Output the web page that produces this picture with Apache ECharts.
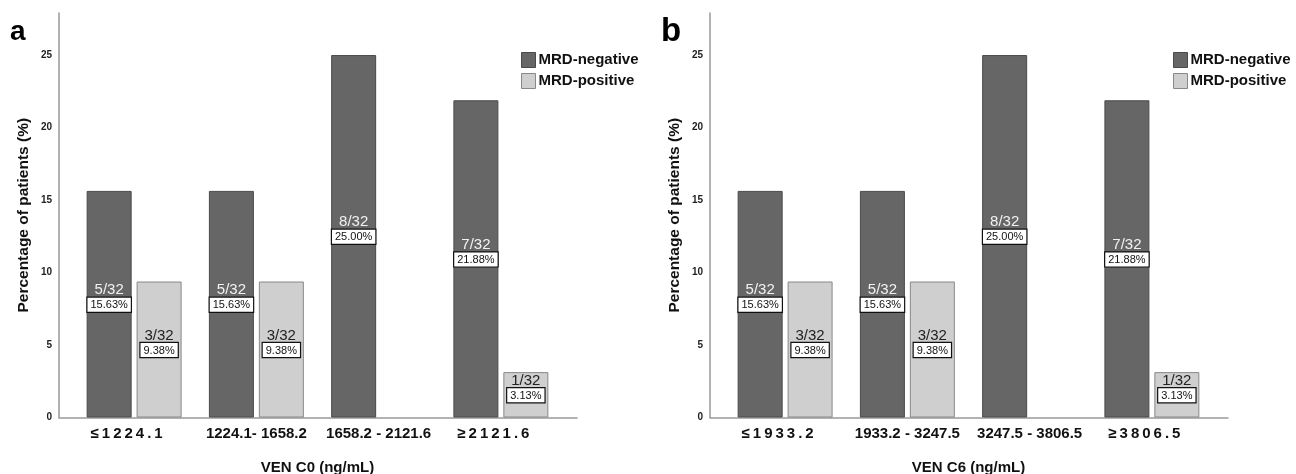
<!DOCTYPE html>
<html>
<head>
<meta charset="utf-8">
<script src="https://cdn.jsdelivr.net/npm/echarts@6/dist/echarts.min.js"></script>
<style>
  html, body { margin: 0; padding: 0; background: #fff; }
  #chart { width: 1296px; height: 474px; }
</style>
</head>
<body>
<div id="chart"></div>
<script>
// panel a: VEN C0, panel b: VEN C6
const categoriesA = ['≤1224.1', '1224.1- 1658.2', '1658.2 - 2121.6', '≥2121.6']
const categoriesB = ['≤1933.2', '1933.2 - 3247.5', '3247.5 - 3806.5', '≥3806.5']
const seriesNames = ['MRD-negative', 'MRD-positive']
const total = 32

const negCountsA = [5, 5, 8, 7]
const posCountsA = [3, 3, 0, 1]
const negPctA = [15.63, 15.63, 25.00, 21.88]
const posPctA = [9.38, 9.38, null, 3.13]

const negCountsB = [5, 5, 8, 7]
const posCountsB = [3, 3, 0, 1]
const negPctB = [15.63, 15.63, 25.00, 21.88]
const posPctB = [9.38, 9.38, null, 3.13]

const yTicks = [0, 5, 10, 15, 20, 25]

const font = 'Liberation Sans, Arial, sans-serif'
const darkFill = '#666666'
const lightFill = '#cfcfcf'

function spaced (s) {
  // the ≤ / ≥ labels are drawn with wide letter spacing (and a trailing gap) in the original
  if (s[0] === '≤' || s[0] === '≥') return s.split('').join('\u2009') + '\u2003'
  return s
}

function barLabel (counts, onDark) {
  return {
    show: true,
    position: 'inside',
    offset: [0, -8],
    formatter: (p) => '{f|' + counts[p.dataIndex] + '/' + total + '}\n{p|' + p.value.toFixed(2) + '%}',
    rich: {
      f: { fontFamily: font, fontSize: 15, color: onDark ? '#f2f2f2' : '#222', lineHeight: 17 },
      p: {
        fontFamily: font, fontSize: 11, color: '#111', lineHeight: 12,
        backgroundColor: '#fff', borderColor: '#111', borderWidth: 1.2, padding: [2, 3, 1, 3]
      }
    }
  }
}

function panel (idx, left, cats, xName, negPct, posPct, negCounts, posCounts) {
  const gridMain = { left: left + 14, width: 489, top: 13, bottom: 56.5, outerBoundsMode: 'none', containLabel: false }
  const gridLine = { left: left, width: 518, top: 13, bottom: 56.5, outerBoundsMode: 'none', containLabel: false }
  const xMain = {
    type: 'category', gridIndex: idx * 2, data: cats,
    axisLine: { show: false }, axisTick: { show: false },
    axisLabel: { interval: 0, fontFamily: font, fontSize: 15, fontWeight: 'bold', color: '#111', margin: 9, formatter: spaced },
    name: xName, nameLocation: 'middle', nameGap: 43,
    nameTextStyle: { fontFamily: font, fontSize: 15, fontWeight: 'bold', color: '#111' }
  }
  const yMain = {
    type: 'value', gridIndex: idx * 2, min: 0, max: 27.9, interval: 5, offset: 14,
    axisLine: { show: true, lineStyle: { color: '#999', width: 1.5 } },
    axisTick: { show: false }, splitLine: { show: false },
    axisLabel: {
      fontFamily: font, fontSize: 10, fontWeight: 'bold', color: '#222', margin: 7,
      formatter: (v) => (yTicks.includes(v) ? String(v) : '')
    },
    name: 'Percentage of patients (%)', nameLocation: 'middle', nameGap: 27,
    nameTextStyle: { fontFamily: font, fontSize: 15.5, fontWeight: 'bold', color: '#111' }
  }
  const xLine = {
    type: 'value', gridIndex: idx * 2 + 1, min: 0, max: 1,
    axisLine: { show: true, onZero: false, lineStyle: { color: '#999', width: 1.5 } },
    axisTick: { show: false }, axisLabel: { show: false }, splitLine: { show: false }
  }
  const yLine = { type: 'value', gridIndex: idx * 2 + 1, show: false }
  const series = [
    {
      name: seriesNames[0], type: 'bar', xAxisIndex: idx * 2, yAxisIndex: idx * 2,
      data: negPct, barWidth: 45, barGap: '11%',
      itemStyle: { color: darkFill, borderColor: '#4a4a4a', borderWidth: 1 },
      label: barLabel(negCounts, true)
    },
    {
      name: seriesNames[1], type: 'bar', xAxisIndex: idx * 2, yAxisIndex: idx * 2,
      data: posPct, barWidth: 45, barGap: '11%',
      itemStyle: { color: lightFill, borderColor: '#888', borderWidth: 1 },
      label: barLabel(posCounts, false)
    }
  ]
  return { grids: [gridMain, gridLine], xAxes: [xMain, xLine], yAxes: [yMain, yLine], series }
}

const pa = panel(0, 59, categoriesA, 'VEN C0 (ng/mL)', negPctA, posPctA, negCountsA, posCountsA)
const pb = panel(1, 710, categoriesB, 'VEN C6 (ng/mL)', negPctB, posPctB, negCountsB, posCountsB)

function legend (left) {
  return {
    left: left, top: 52, orient: 'vertical', itemWidth: 14, itemHeight: 15, itemGap: 5, padding: 0,
    selectedMode: false, icon: 'rect',
    data: [
      { name: seriesNames[0], itemStyle: { color: darkFill, borderColor: '#4a4a4a', borderWidth: 1 } },
      { name: seriesNames[1], itemStyle: { color: lightFill, borderColor: '#888', borderWidth: 1 } }
    ],
    textStyle: { fontFamily: font, fontSize: 15, fontWeight: 'bold', color: '#111', padding: [2, 0, 0, -2] }
  }
}

const option = {
  animation: false,
  backgroundColor: '#fff',
  title: [
    { text: 'a', left: 10, top: 18, padding: 0, textStyle: { fontFamily: font, fontSize: 28, fontWeight: 'bold', color: '#000' } },
    { text: 'b', left: 661, top: 15, padding: 0, textStyle: { fontFamily: font, fontSize: 33, fontWeight: 'bold', color: '#000' } }
  ],
  legend: [legend(521), legend(1173)],
  grid: [...pa.grids, ...pb.grids],
  xAxis: [...pa.xAxes, ...pb.xAxes],
  yAxis: [...pa.yAxes, ...pb.yAxes],
  series: [...pa.series, ...pb.series]
}

let myChart = null
try {
  myChart = echarts.init(document.getElementById('chart'))
  myChart.setOption(option)
} catch (e) {
  console.error('ECHARTS', e.message)
}
</script>
</body>
</html>
